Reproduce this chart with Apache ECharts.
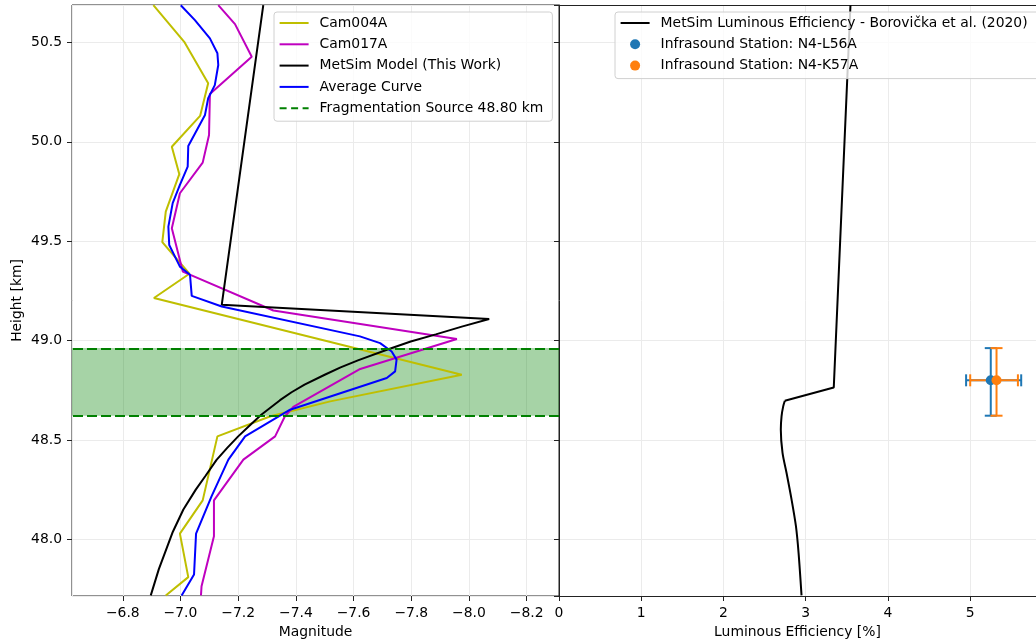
<!DOCTYPE html>
<html>
<head>
<meta charset="utf-8">
<script src="https://cdn.jsdelivr.net/npm/echarts@6/dist/echarts.min.js"></script>
<style>
html,body{margin:0;padding:0;background:#fff;}
#c{width:1036px;height:644px;}
</style>
</head>
<body>
<div id="c"></div>
<script>
// ---------- data ----------
const cam004aHeight = [50.687, 50.503, 50.294, 50.130, 49.975, 49.837, 49.649, 49.495, 49.336, 49.214, 48.828, 48.694, 48.619, 48.518, 48.196, 48.029, 47.810, 47.718];
const cam004aMag    = [-6.906, -7.013, -7.096, -7.068, -6.970, -6.996, -6.949, -6.937, -7.031, -6.908, -7.975, -7.519, -7.312, -7.128, -7.077, -6.998, -7.027, -6.949];

const cam017aHeight = [50.687, 50.592, 50.428, 50.240, 50.034, 49.895, 49.741, 49.565, 49.347, 49.151, 49.008, 48.857, 48.666, 48.619, 48.518, 48.401, 48.196, 48.016, 47.764, 47.718];
const cam017aMag    = [-7.131, -7.189, -7.247, -7.102, -7.099, -7.077, -6.998, -6.970, -7.008, -7.322, -7.958, -7.623, -7.391, -7.362, -7.328, -7.218, -7.116, -7.116, -7.073, -7.071];

const metsimHeight = [50.687, 49.180, 49.108, 49.070, 49.031, 48.995, 48.955, 48.900, 48.865, 48.828, 48.778, 48.740, 48.700, 48.627, 48.570, 48.518, 48.460, 48.400, 48.320, 48.250, 48.150, 48.033, 47.850, 47.718];
const metsimMag    = [-7.287, -7.143, -8.070, -7.975, -7.885, -7.798, -7.718, -7.615, -7.555, -7.500, -7.430, -7.385, -7.345, -7.280, -7.238, -7.200, -7.162, -7.125, -7.087, -7.053, -7.010, -6.972, -6.925, -6.897];
const metsimKinkCount = 3; // first three points are joined by straight segments

const avgHeight = [50.687, 50.612, 50.520, 50.445, 50.386, 50.285, 50.219, 50.135, 49.979, 49.875, 49.783, 49.691, 49.573, 49.481, 49.372, 49.331, 49.225, 49.171, 49.021, 48.987, 48.945, 48.904, 48.845, 48.812, 48.652, 48.518, 48.401, 48.217, 48.029, 47.823, 47.718];
const avgMag    = [-7.001, -7.050, -7.102, -7.128, -7.131, -7.119, -7.096, -7.085, -7.027, -7.025, -6.998, -6.973, -6.958, -6.961, -6.998, -7.033, -7.039, -7.143, -7.622, -7.692, -7.732, -7.749, -7.744, -7.715, -7.380, -7.224, -7.166, -7.108, -7.054, -7.047, -7.004];

const fragHeight = 48.80;
const fragLow = 48.622;
const fragHigh = 48.962;

const lumHeight = [50.687, 48.764, 48.697, 48.669, 48.619, 48.552, 48.435, 48.334, 48.200, 48.066, 47.932, 47.718];
const lumValue  = [3.544, 3.341, 2.746, 2.726, 2.706, 2.697, 2.718, 2.767, 2.828, 2.881, 2.913, 2.949];
const lumKinkCount = 3;

// [lum, height, lumLow, lumHigh, heightLow, heightHigh]
const stationL56A = [5.25, 48.80, 4.95, 5.62, 48.622, 48.962];
const stationK57A = [5.32, 48.80, 5.00, 5.58, 48.622, 48.962];

const magRange = [-8.312, -6.624];
const heightRange = [47.715, 50.688];
const lumRange = [0, 5.80];

// ---------- build ----------
const FONT = 'DejaVu Sans';
function zip(xs, ys){ return xs.map((x,i)=>[x, ys[i]]); }
const minus = v => (Math.round(v*10)/10).toFixed(1).replace('-', '\u2212');

function errRender(color){
  return function(params, api){
    const x = api.value(0), y = api.value(1);
    const pL = api.coord([api.value(2), y]);
    const pR = api.coord([api.value(3), y]);
    const pB = api.coord([x, api.value(4)]);
    const pT = api.coord([x, api.value(5)]);
    const c = 6;
    const st = {stroke: color, lineWidth: 2, fill: null};
    const ln = (x1,y1,x2,y2)=>({type:'line', shape:{x1,y1,x2,y2}, style:st});
    return {type:'group', children:[
      ln(pL[0],pL[1],pR[0],pR[1]),
      ln(pB[0],pB[1],pT[0],pT[1]),
      ln(pL[0],pL[1]-c,pL[0],pL[1]+c),
      ln(pR[0],pR[1]-c,pR[0],pR[1]+c),
      ln(pB[0]-c,pB[1],pB[0]+c,pB[1]),
      ln(pT[0]-c,pT[1],pT[0]+c,pT[1])
    ]};
  };
}

const gridLine = {show:true, lineStyle:{color:'#ebebeb', width:1}};
const tick = {show:true, length:5, inside:false, lineStyle:{color:'#222', width:1}};
const frameLine = {show:true, lineStyle:{color:'#222', width:1}};
const lbl = {fontFamily:FONT, fontSize:13.9, color:'#000'};

const legendBase = {
  orient:'vertical', top:12, itemWidth:29, itemHeight:10, itemGap:5.3,
  backgroundColor:'rgba(255,255,255,0.8)',
  borderColor:'#d0d0d0', borderWidth:1, borderRadius:3,
  textStyle:{fontFamily:FONT, fontSize:13.9, color:'#000', lineHeight:16, padding:[0,0,0,6]}
};
const noSym = {opacity:0};

const metsimName = 'MetSim Model (This Work)';
const lumName = 'MetSim Luminous Efficiency - Borovi\u010Dka et al. (2020)';
const metsimPts = zip(metsimMag, metsimHeight);
const lumPts = zip(lumValue, lumHeight);

const option = {
  animation:false,
  backgroundColor:'#fff',
  textStyle:{fontFamily:FONT},
  grid:[
    {left:72, top:5, width:487, height:591, show:true, borderColor:'#222', borderWidth:1, backgroundColor:'transparent'},
    {left:559, top:5, width:477, height:591, show:false}
  ],
  xAxis:[
    {gridIndex:0, type:'value', inverse:true, min:magRange[0], max:magRange[1], splitNumber:8,
     name:'Magnitude', nameLocation:'middle', nameGap:27, nameTextStyle:lbl,
     axisLine:{show:false}, axisTick:tick, splitLine:gridLine,
     axisLabel:Object.assign({margin:10, showMinLabel:false, showMaxLabel:false, formatter:minus}, lbl)},
    {gridIndex:1, type:'value', min:lumRange[0], max:lumRange[1], interval:1,
     name:'Luminous Efficiency [%]', nameLocation:'middle', nameGap:27, nameTextStyle:lbl,
     axisLine:frameLine, axisTick:tick, splitLine:gridLine,
     axisLabel:Object.assign({margin:10, showMaxLabel:false, formatter:v=>String(v)}, lbl)},
    {gridIndex:1, type:'value', position:'top', min:lumRange[0], max:lumRange[1],
     axisLine:frameLine, axisTick:{show:false}, axisLabel:{show:false}, splitLine:{show:false}}
  ],
  yAxis:[
    {gridIndex:0, type:'value', min:heightRange[0], max:heightRange[1], splitNumber:6,
     name:'Height [km]', nameLocation:'middle', nameGap:48, nameRotate:90, nameTextStyle:lbl,
     axisLine:{show:false}, axisTick:tick, splitLine:gridLine,
     axisLabel:Object.assign({margin:10, showMinLabel:false, showMaxLabel:false, formatter:v=>v.toFixed(1)}, lbl)},
    {gridIndex:1, type:'value', min:heightRange[0], max:heightRange[1], splitNumber:6,
     axisLine:frameLine, axisTick:tick, splitLine:gridLine, axisLabel:{show:false}}
  ],
  legend:[
    Object.assign({}, legendBase, {left:274, padding:[3,9,5,4.6], itemStyle:noSym,
      data:['Cam004A','Cam017A',metsimName,'Average Curve','Fragmentation Source 48.80 km']}),
    Object.assign({}, legendBase, {left:615, padding:[3,20,5,4.6], data:[
      {name:lumName, itemStyle:noSym},
      {name:'Infrasound Station: N4-L56A', icon:'circle'},
      {name:'Infrasound Station: N4-K57A', icon:'circle'}
    ]})
  ],
  series:[
    {name:'Fragmentation Source 48.80 km', type:'line', xAxisIndex:0, yAxisIndex:0, data:[], symbol:'none',
     lineStyle:{color:'#008000', width:2, type:[7,4.5]}, itemStyle:{color:'#008000'}, z:1,
     markArea:{silent:true, itemStyle:{color:'rgba(0,128,0,0.35)'}, data:[[{yAxis:fragLow},{yAxis:fragHigh}]]},
     markLine:{silent:true, symbol:'none', label:{show:false}, lineStyle:{color:'#008000', width:2, type:[10,4]},
       data:[{yAxis:fragLow},{yAxis:fragHigh}]}},
    {name:'Cam004A', type:'line', xAxisIndex:0, yAxisIndex:0, data:zip(cam004aMag, cam004aHeight), symbol:'none',
     lineStyle:{color:'#bfbf00', width:2}, itemStyle:{color:'#bfbf00'}, z:3},
    {name:'Cam017A', type:'line', xAxisIndex:0, yAxisIndex:0, data:zip(cam017aMag, cam017aHeight), symbol:'none',
     lineStyle:{color:'#bf00bf', width:2}, itemStyle:{color:'#bf00bf'}, z:3},
    {name:metsimName, type:'line', xAxisIndex:0, yAxisIndex:0, data:metsimPts, symbol:'none',
     lineStyle:{color:'#000000', width:2}, itemStyle:{color:'#000000'}, z:3},
    {name:'Average Curve', type:'line', xAxisIndex:0, yAxisIndex:0, data:zip(avgMag, avgHeight), symbol:'none',
     lineStyle:{color:'#0000ff', width:2}, itemStyle:{color:'#0000ff'}, z:3},
    {name:lumName, type:'line', xAxisIndex:1, yAxisIndex:1,
     data:lumPts.slice(0, lumKinkCount), symbol:'none', lineStyle:{color:'#000000', width:2}, itemStyle:{color:'#000000'}, z:3},
    {name:lumName, type:'line', xAxisIndex:1, yAxisIndex:1, smooth:0.3,
     data:lumPts.slice(lumKinkCount-1), symbol:'none', lineStyle:{color:'#000000', width:2}, itemStyle:{color:'#000000'}, z:3},
    {name:'errL56A', type:'custom', xAxisIndex:1, yAxisIndex:1, data:[stationL56A], renderItem:errRender('#1f77b4'),
     encode:{x:[0,2,3], y:[1,4,5]}, z:4, silent:true},
    {name:'Infrasound Station: N4-L56A', type:'scatter', xAxisIndex:1, yAxisIndex:1, data:[[stationL56A[0], stationL56A[1]]],
     symbolSize:10, itemStyle:{color:'#1f77b4', opacity:1}, z:5},
    {name:'errK57A', type:'custom', xAxisIndex:1, yAxisIndex:1, data:[stationK57A], renderItem:errRender('#ff7f0e'),
     encode:{x:[0,2,3], y:[1,4,5]}, z:4, silent:true},
    {name:'Infrasound Station: N4-K57A', type:'scatter', xAxisIndex:1, yAxisIndex:1, data:[[stationK57A[0], stationK57A[1]]],
     symbolSize:10, itemStyle:{color:'#ff7f0e', opacity:1}, z:5}
  ]
};

const chart = echarts.init(document.getElementById('c'), null, {renderer:'canvas'});
chart.setOption(option);
</script>
</body>
</html>
